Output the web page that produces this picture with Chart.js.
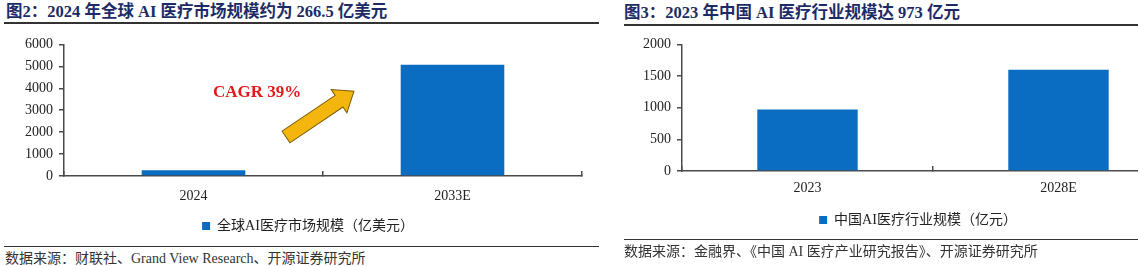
<!DOCTYPE html>
<html lang="zh-CN">
<head>
<meta charset="utf-8">
<title>AI 医疗市场规模</title>
<script src="https://cdn.jsdelivr.net/npm/chart.js@4.4.1/dist/chart.umd.min.js"></script>
<style>
  html, body { margin: 0; padding: 0; background: #fff; }
  body {
    position: relative; width: 1138px; height: 266px; overflow: hidden;
    font-family: 'Liberation Serif', 'Noto Sans CJK SC', serif; color: #222;
  }
  .title { position: absolute; font-weight: bold; font-size: 16.5px; line-height: 20px; color: #1c2b66; white-space: nowrap; }
  .rule { position: absolute; height: 0; border-top: 2px solid #333; }
  .rule.thin { border-top-width: 1.5px; }
  .source { position: absolute; font-size: 14px; line-height: 18px; color: #333; white-space: nowrap; }
  .chart-box { position: absolute; }
  .cagr { position: absolute; font-weight: bold; font-size: 17px; line-height: 20px; color: #e3191b; white-space: nowrap; }
  svg.arrow { position: absolute; left: 0; top: 0; }
</style>
</head>
<body>

<!-- 图2 -->
<div class="title" style="left:6px; top:2px;">图2：2024 年全球 AI 医疗市场规模约为 266.5 亿美元</div>
<div class="rule" style="left:4px; top:22px; width:595px;"></div>
<div class="chart-box" style="left:0; top:30px; width:640px; height:213px;"><canvas id="globalChart"></canvas></div>
<div class="rule thin" style="left:4px; top:246px; width:595px;"></div>
<div class="source" style="left:5px; top:250px;">数据来源：财联社、Grand View Research、开源证券研究所</div>

<div class="cagr" style="left:213px; top:82px;">CAGR 39%</div>
<svg class="arrow" width="600" height="200">
  <g transform="translate(286,137) rotate(-34)">
    <polygon points="0,-7 64,-7 64,-14 82,0 64,14 64,7 0,7" fill="#f4b50c" stroke="#7a5c00" stroke-width="1"/>
  </g>
</svg>

<!-- 图3 -->
<div class="title" style="left:624px; top:3px;">图3：2023 年中国 AI 医疗行业规模达 973 亿元</div>
<div class="rule" style="left:624px; top:24px; width:514px;"></div>
<div class="chart-box" style="left:640px; top:30px; width:600px; height:207px;"><canvas id="chinaChart"></canvas></div>
<div class="rule thin" style="left:624px; top:239px; width:514px;"></div>
<div class="source" style="left:624px; top:243px;">数据来源：金融界、《中国 AI 医疗产业研究报告》、开源证券研究所</div>

<script>
// ── 图2 data: global AI healthcare market (亿美元)
const globalYears = ['2024', '2033E'];
const globalSize = [266.5, 5070];
const globalTicks = [0, 1000, 2000, 3000, 4000, 5000, 6000];
const globalLabel = '全球AI医疗市场规模（亿美元）';

// ── 图3 data: China AI healthcare industry (亿元)
const chinaYears = ['2023', '2028E'];
const chinaSize = [973, 1600];
const chinaTicks = [0, 500, 1000, 1500, 2000];
const chinaLabel = '中国AI医疗行业规模（亿元）';

const BAR_BLUE = '#0a6dc2';
const AXIS_GREY = '#4a4a4a';
const FONT_FAMILY = "'Liberation Serif', 'Noto Sans CJK SC', serif";

Chart.defaults.font.family = FONT_FAMILY;
Chart.defaults.color = '#222';

// o.yWidth: left axis box, o.spacer: empty right box (pushes the legend centre right),
// o.xHeight: category axis box, o.legendPad / o.xLabelPad: label offsets
function buildBarChart(canvasId, years, values, ticks, label, o) {
  return new Chart(document.getElementById(canvasId), {
    type: 'bar',
    data: {
      labels: years,
      datasets: [{
        label: label,
        data: values,
        backgroundColor: BAR_BLUE,
        borderWidth: 0,
        categoryPercentage: 1,
        barPercentage: 0.4,
      }]
    },
    options: {
      responsive: true,
      maintainAspectRatio: false,
      animation: false,
      layout: { padding: o.padding },
      plugins: {
        tooltip: { enabled: false },
        legend: {
          position: 'bottom',
          labels: {
            boxWidth: 8, boxHeight: 8,
            padding: o.legendPad,
            color: '#222',
            font: { size: 14 }
          }
        }
      },
      scales: {
        x: {
          grid: { offset: true, drawOnChartArea: false, tickLength: -5, color: AXIS_GREY, lineWidth: 1.5 },
          border: { color: AXIS_GREY, width: 1.5 },
          ticks: { padding: o.xLabelPad, color: '#222', font: { size: 14 } },
          afterFit: s => { s.height = o.xHeight; }
        },
        y: {
          min: ticks[0],
          max: ticks[ticks.length - 1],
          grid: { drawOnChartArea: false, tickLength: 5, color: AXIS_GREY, lineWidth: 1.5 },
          border: { color: AXIS_GREY, width: 1.5 },
          ticks: { padding: 6, color: '#222', font: { size: 14 }, callback: v => String(v) },
          afterBuildTicks: axis => { axis.ticks = ticks.map(v => ({ value: v })); },
          afterFit: s => { s.width = o.yWidth; }
        },
        spacer: {
          type: 'linear',
          position: 'right',
          grid: { display: false },
          border: { display: false },
          ticks: { display: false },
          afterFit: s => { s.width = o.spacer; }
        }
      }
    }
  });
}

buildBarChart('globalChart', globalYears, globalSize, globalTicks, globalLabel, {
  padding: { top: 12, left: 0, right: 24, bottom: 0 },
  yWidth: 64, spacer: 34, xHeight: 33, legendPad: 10, xLabelPad: 17
});

buildBarChart('chinaChart', chinaYears, chinaSize, chinaTicks, chinaLabel, {
  padding: { top: 11, left: 0, right: 44, bottom: 0 },
  yWidth: 42, spacer: 12, xHeight: 33, legendPad: 9, xLabelPad: 14
});
</script>
</body>
</html>
